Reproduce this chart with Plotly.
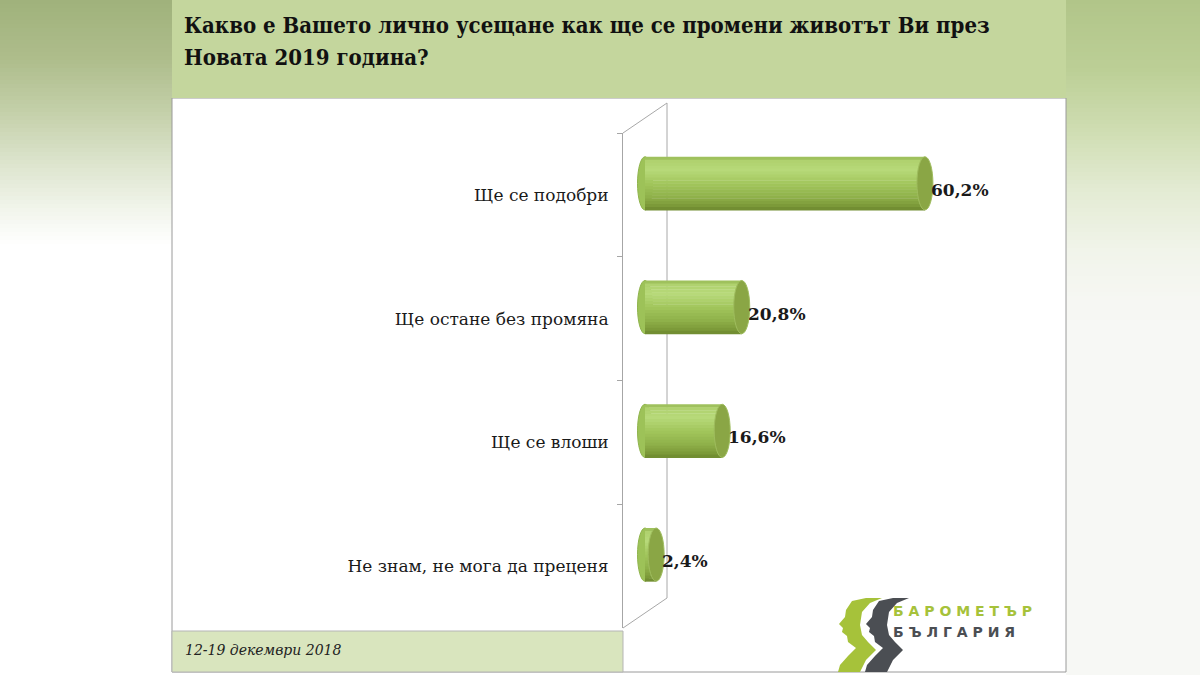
import plotly.graph_objects as go

# ---------------- data ----------------
categories = ["Ще се подобри", "Ще остане без промяна", "Ще се влоши", "Не знам, не мога да преценя"]
values = [60.2, 20.8, 16.6, 2.4]
title_line1 = "Какво е Вашето лично усещане как ще се промени животът Ви през"
title_line2 = "Новата 2019 година?"
footer_text = "12-19 декември 2018"
logo_top = "БАРОМЕТЪР"
logo_bottom = "БЪЛГАРИЯ"

# ---------------- layout geometry (pixels) ----------------
FW, FH = 1200, 675
L, R_EDGE, T, B_EDGE = 623, 1061, 133, 628
W, H = R_EDGE - L, B_EDGE - T
PX_PER_UNIT = 4.65
ZERO_PX = 645
X_RANGE = [(L - ZERO_PX) / PX_PER_UNIT, (R_EDGE - ZERO_PX) / PX_PER_UNIT]


def P(xp, yp):
    """pixel -> paper coords"""
    return (xp - L) / W, 1 - (yp - T) / H


def hex2rgb(c):
    return [int(c[i:i + 2], 16) for i in (1, 3, 5)]


def lerp_hex(c1, c2, t):
    a, b = hex2rgb(c1), hex2rgb(c2)
    return "#" + "".join(f"{round(a[k] + (b[k] - a[k]) * t):02x}" for k in range(3))


def profile(stops, f):
    for (f0, c0), (f1, c1) in zip(stops[:-1], stops[1:]):
        if f0 <= f <= f1:
            return lerp_hex(c0, c1, (f - f0) / (f1 - f0) if f1 > f0 else 0)
    return stops[-1][1]


shapes = []


def rect_px(x0, y0, x1, y1, fill, line=None, lw=0, layer="below"):
    px0, py0 = P(x0, y0)
    px1, py1 = P(x1, y1)
    shapes.append(dict(type="rect", xref="paper", yref="paper", x0=px0, y0=py0, x1=px1, y1=py1,
                       fillcolor=fill, line=dict(color=line or fill, width=lw), layer=layer))


def line_px(x0, y0, x1, y1, color, width=1, layer="below"):
    px0, py0 = P(x0, y0)
    px1, py1 = P(x1, y1)
    shapes.append(dict(type="line", xref="paper", yref="paper", x0=px0, y0=py0, x1=px1, y1=py1,
                       line=dict(color=color, width=width), layer=layer))


def path_px(points, fill, layer="above"):
    pts = [P(x, y) for x, y in points]
    d = "M " + " L ".join(f"{x:.5f},{y:.5f}" for x, y in pts) + " Z"
    shapes.append(dict(type="path", xref="paper", yref="paper", path=d, fillcolor=fill,
                       line=dict(width=0), layer=layer))


# background gradient side areas
left_stops = [(0, "#a0b27b"), (60, "#aebd8c"), (110, "#c3cfa8"), (160, "#dbe3cb"),
              (210, "#f2f5ec"), (245, "#ffffff"), (700, "#ffffff")]
right_stops = [(0, "#b1c589"), (70, "#bccf96"), (130, "#cfddb2"), (190, "#e3ebd3"),
               (250, "#f1f4ea"), (300, "#f6f7f3"), (700, "#f7f8f5")]
for y0 in range(0, 320, 4):
    rect_px(0, y0, 172, y0 + 4.6, profile(left_stops, y0 + 2))
    rect_px(1066, y0, FW, y0 + 4.6, profile(right_stops, y0 + 2))
rect_px(1066, 320, FW, FH, "#f7f8f5")

# white panel, title band, footer band
rect_px(172, 98, 1066, 672, "#ffffff", "#9a9a9a", 1)
rect_px(172, 0, 1066, 98, "#c4d69d", "#c4d69d", 0)
rect_px(172, 631, 623, 672, "#d9e5be", "#b5b5b5", 1)

# 3D back wall lines
wall = "#a8a8a8"
line_px(623, 133, 667, 103, wall)
line_px(667, 103, 667, 598, wall)
line_px(623, 628, 667, 598, wall)

# ---------------- bars (sliced for cylinder shading) ----------------
BAR_W = 0.43
CSHIFT = -0.093
N_SLICES = 18
shade = [(0.0, "#94b652"), (0.07, "#afd16e"), (0.25, "#b7d979"), (0.5, "#a2c65c"),
         (0.75, "#8fb14a"), (0.92, "#7c9a39"), (1.0, "#6c882f")]

fig = go.Figure()
for k in range(N_SLICES):
    f = (k + 0.5) / N_SLICES
    fig.add_trace(go.Bar(
        y=categories, x=values, orientation="h",
        width=BAR_W / N_SLICES * 1.15,
        offset=CSHIFT - BAR_W / 2 + k * BAR_W / N_SLICES,
        marker=dict(color=profile(shade, f), line=dict(width=0)),
        hoverinfo="skip", showlegend=False,
    ))

CAP_L = 7.5 / PX_PER_UNIT
CAP_R = 8.0 / PX_PER_UNIT
for i, v in enumerate(values):
    yc = i + CSHIFT
    # left rounded end
    shapes.append(dict(type="circle", xref="x", yref="y", x0=-CAP_L, x1=CAP_L,
                       y0=yc - BAR_W / 2, y1=yc + BAR_W / 2,
                       fillcolor="#9dc258", line=dict(color="#8fb44c", width=1), layer="below"))
    # right end face
    shapes.append(dict(type="circle", xref="x", yref="y", x0=v - CAP_R, x1=v + CAP_R,
                       y0=yc - BAR_W / 2, y1=yc + BAR_W / 2,
                       fillcolor="#8aa645", line=dict(color="#9fbd5e", width=1), layer="above"))

annotations = []
for i, (c, v) in enumerate(zip(categories, values)):
    annotations.append(dict(
        x=v, y=i, xref="x", yref="y", xanchor="left", yanchor="middle",
        xshift=4, yshift=5, showarrow=False,
        text=f"{v:.1f}".replace(".", ",") + "%",
        font=dict(family="DejaVu Serif", size=17, color="#1a1a1a", weight="bold"),
    ))

# title
for txt, yp in ((title_line1, 25), (title_line2, 57)):
    px, py = P(182, yp)
    annotations.append(dict(x=px, y=py, xref="paper", yref="paper", xanchor="left", yanchor="middle",
                            showarrow=False, text=txt,
                            font=dict(family="DejaVu Serif Condensed, DejaVu Serif", size=22,
                                      color="#111111", weight="bold")))

# footer
px, py = P(183, 650)
annotations.append(dict(x=px, y=py, xref="paper", yref="paper", xanchor="left", yanchor="middle",
                        showarrow=False, text=footer_text,
                        font=dict(family="DejaVu Serif", size=14, color="#222222", style="italic")))

# logo
green_head = [(866, 598), (852, 601), (846, 610), (845, 617), (839, 624), (843, 628), (842, 632),
              (847, 636), (848, 642), (856, 648), (848, 656), (840, 665), (838, 672),
              (860, 672), (866, 660), (876, 650), (868, 642), (862, 635), (860, 625),
              (862, 612), (870, 603), (882, 598)]
path_px(green_head, "#a6c23a")
path_px([(x + 27, y) for x, y in green_head], "#4b4e53")
for txt, yp, col in ((logo_top, 611, "#a6c23a"), (logo_bottom, 632, "#4b4e53")):
    px, py = P(891, yp)
    annotations.append(dict(x=px, y=py, xref="paper", yref="paper", xanchor="left", yanchor="middle",
                            showarrow=False, text=" ".join(txt),
                            font=dict(family="DejaVu Sans", size=14, color=col, weight="bold")))

fig.update_layout(
    width=FW, height=FH,
    margin=dict(l=L, r=FW - R_EDGE, t=T, b=FH - B_EDGE),
    paper_bgcolor="#ffffff", plot_bgcolor="rgba(0,0,0,0)",
    barmode="overlay",
    xaxis=dict(range=X_RANGE, visible=False, fixedrange=True),
    yaxis=dict(type="category", categoryorder="array", categoryarray=categories,
               range=[3.5, -0.5], showline=True, linecolor="#a6a6a6", linewidth=1,
               ticks="outside", tickson="boundaries", ticklen=5, tickcolor="#a6a6a6",
               ticklabelstandoff=10, showgrid=False, zeroline=False,
               tickfont=dict(family="DejaVu Serif", size=17, color="#1a1a1a"), fixedrange=True),
    shapes=shapes,
    annotations=annotations,
    showlegend=False,
)

fig.write_html("out.html", config={"displayModeBar": False},
               post_script="document.body.style.margin='0';document.body.style.overflow='hidden';")
